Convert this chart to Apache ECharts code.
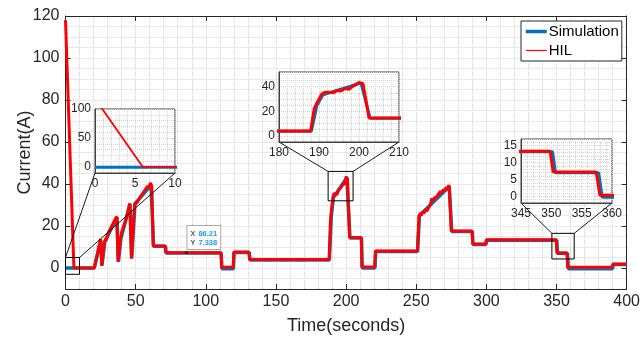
<!DOCTYPE html>
<html><head><meta charset="utf-8">
<script src="https://cdn.jsdelivr.net/npm/echarts@6/dist/echarts.min.js"></script>
<style>html,body{margin:0;padding:0;background:#fff}#c{width:643px;height:341px}</style>
</head><body><div id="c"></div>
<script>
// ---------- data ----------
const simulation = [[0,0],[20.5,0],[25.2,13.2],[26,1.3],[26.6,1.3],[28,12.5],[36.7,24.2],[37.7,3],[38.5,3],[39.5,14],[46,30.5],[47.2,4.6],[48.1,4.6],[49.5,30.5],[61,39.5],[62.8,10.3],[71.3,10.3],[71.8,7.1],[111,7.1],[111.5,-0.3],[119.7,-0.3],[120.2,7.4],[131,7.4],[131.5,3.8],[188.1,3.8],[189.5,25],[191,33.5],[200.5,43],[202.8,14.3],[211,14.3],[211.5,0],[220.6,0],[221.1,7.9],[251,7.9],[252.3,25],[273.6,38.8],[275.3,17.4],[290,17.4],[290.5,11.2],[299.7,11.2],[300.2,13.2],[350.2,13.2],[350.7,7],[357.8,7],[358.4,-0.3],[389.9,-0.3],[390.4,1.7],[400,1.7]];
const hil = [[0,118],[6,0],[20.5,0],[25,13.8],[25.8,1],[26.5,1],[27.5,11],[28.5,14],[29,13],[30,16],[30.5,15.5],[31.5,18],[32,17.5],[33,20],[33.5,19.5],[34.5,22],[35,21.5],[36.5,24.5],[37.5,3],[38.3,3],[39.2,14],[40,17],[40.5,16.5],[41.5,20],[42,19.5],[43,23],[43.5,22.5],[44.5,27],[45,26.5],[45.8,30.8],[47,4.6],[47.9,4.6],[48.8,25],[49.5,31],[50.5,31.5],[51,31],[52.5,33],[53,32.5],[54.5,35],[55,34.5],[56.5,37],[57,36.5],[58.5,39],[59,38],[60.5,40.5],[61.5,39],[62.5,10.5],[71,10.5],[71.5,7.3],[110.8,7.3],[111.3,0.3],[119.5,0.3],[120,7.6],[130.7,7.6],[131.2,4],[187.9,4],[188.8,22],[189.5,27],[190,30],[190.7,34],[191.5,35.5],[192.5,35.5],[193.5,35],[194.5,37],[195.5,36.5],[196.5,38.5],[197.5,38],[198.5,40.5],[199,39.5],[200,43.5],[201,42.5],[202.5,14.5],[210.8,14.5],[211.3,0.5],[220.4,0.5],[220.9,8.1],[250.8,8.1],[252,25],[253,26],[253.5,25],[255,27],[255.5,26],[257,28],[257.5,27],[259,29],[260,30],[261,33],[262,32],[263.5,34],[264,33],[265.5,35],[266,34.5],[267.5,36.5],[268,35.5],[269.5,37.5],[270,36.5],[271.5,38.5],[272,37.5],[273.4,39.5],[275,17.6],[289.8,17.6],[290.3,11.4],[299.5,11.4],[300,13.4],[349.8,13.4],[350.3,7.2],[357.4,7.2],[358,0.3],[389.7,0.3],[390.2,1.9],[400,1.9]];
const seriesNames = ['Simulation','HIL'];
const mainX = {min:0, max:400, grid:10, label:50};
const mainY = {min:-10, max:120, grid:5, label:20};
const mainYTicks = [0,20,40,60,80,100,120];
const insets = [
  {x:{min:0,max:10,grid:1,label:5},   y:{min:-10,max:100,grid:10,label:50}},
  {x:{min:180,max:210,grid:2,label:10},y:{min:-5,max:52,grid:5,label:20}},
  {x:{min:345,max:360,grid:1,label:5}, y:{min:-2,max:17,grid:1,label:5}}
];
// zoom boxes drawn on the main plot (data units)
const zoomBoxes = [[0,10,-3,5],[187.2,205,32,46],[346.7,362.6,4.3,16.5]];
const tipPoint = [86.21, 7.338];

// ---------- styling ----------
const FONT = '"Liberation Sans", Arial, Helvetica, sans-serif';
const TXT = '#262626';
const BLUE = '#0072BD', RED = '#FF0000';
const gridLine = {show:true, lineStyle:{type:'dotted', color:'#d2d2d2', width:1}};

function fmt(step){ return v => (Math.abs(v/step - Math.round(v/step))<1e-6 && v>=0) ? String(Math.round(v*100)/100) : ''; }

const grids = [
  {left:65.5, right:16, top:16, bottom:52, show:false},
  {left:95, top:109, width:80, height:64, show:true, backgroundColor:'#fff', borderColor:'#404040', borderWidth:1, zlevel:1},
  {left:279, top:72, width:120, height:70, show:true, backgroundColor:'#fff', borderColor:'#404040', borderWidth:1, zlevel:1},
  {left:521, top:139, width:91, height:64, show:true, backgroundColor:'#fff', borderColor:'#404040', borderWidth:1, zlevel:1}
];

const xAxes = [
  {type:'value', gridIndex:0, min:mainX.min, max:mainX.max, interval:mainX.grid,
   axisLine:{show:true, onZero:false, lineStyle:{color:TXT}}, axisTick:{show:false},
   axisLabel:{formatter:fmt(mainX.label), fontSize:16, fontFamily:FONT, color:TXT, margin:5},
   splitLine:gridLine, name:'Time(seconds)', nameLocation:'middle', nameGap:28, nameMoveOverlap:false,
   nameTextStyle:{fontSize:18, fontFamily:FONT, color:TXT}},
  {type:'value', gridIndex:0, position:'top', min:mainX.min, max:mainX.max, interval:mainX.label,
   axisLine:{show:true, onZero:false, lineStyle:{color:TXT}}, axisTick:{show:true, inside:true, length:5, lineStyle:{color:TXT}},
   axisLabel:{show:false}, splitLine:{show:false}},
  {type:'value', gridIndex:0, position:'bottom', min:mainX.min, max:mainX.max, interval:mainX.label,
   axisLine:{show:false, onZero:false}, axisTick:{show:true, inside:true, length:5, lineStyle:{color:TXT}},
   axisLabel:{show:false}, splitLine:{show:false}}
];
const yAxes = [
  {type:'value', gridIndex:0, min:mainY.min, max:mainY.max, interval:mainY.grid,
   axisLine:{show:true, onZero:false, lineStyle:{color:TXT}}, axisTick:{show:false},
   axisLabel:{formatter:fmt(mainY.label), fontSize:16, fontFamily:FONT, color:TXT, margin:6},
   splitLine:gridLine, name:'Current(A)', nameLocation:'middle', nameGap:31, nameMoveOverlap:false,
   nameTextStyle:{fontSize:18, fontFamily:FONT, color:TXT}},
  {type:'value', gridIndex:0, position:'left', min:mainY.min, max:mainY.max, splitNumber:6,
   axisLine:{show:false, onZero:false}, axisTick:{show:true, inside:true, length:5, customValues:mainYTicks, lineStyle:{color:TXT}},
   axisLabel:{show:false}, splitLine:{show:false}},
  {type:'value', gridIndex:0, position:'right', min:mainY.min, max:mainY.max, splitNumber:6,
   axisLine:{show:true, onZero:false, lineStyle:{color:TXT}}, axisTick:{show:true, inside:true, length:5, customValues:mainYTicks, lineStyle:{color:TXT}},
   axisLabel:{show:false}, splitLine:{show:false}}
];

const series = [
  {name:seriesNames[0], type:'line', xAxisIndex:0, yAxisIndex:0, data:simulation, symbol:'none', showSymbol:false,
   lineStyle:{color:BLUE, width:3.5}, itemStyle:{color:BLUE}, animation:false, z:2},
  {name:seriesNames[1], type:'line', xAxisIndex:0, yAxisIndex:0, data:hil, symbol:'none', showSymbol:false,
   lineStyle:{color:RED, width:3}, itemStyle:{color:RED}, animation:false, z:3,
   markPoint:{symbol:'circle', symbolSize:3, silent:true, animation:false, itemStyle:{color:'#222'},
     data:[{coord:tipPoint}],
     label:{show:true, position:[2.5,-25], formatter:'{k|X} {v|' + tipPoint[0] + '}\n{k|Y} {v|' + tipPoint[1] + '}',
       backgroundColor:'#fff', borderColor:'#a8a8a8', borderWidth:1, padding:[3,3,2,3], lineHeight:9,
       rich:{k:{color:'#555', fontSize:7, fontWeight:'bold', fontFamily:FONT, lineHeight:9},
             v:{color:'#1a9af0', fontSize:7.5, fontWeight:'bold', fontFamily:FONT, lineHeight:9}}}}}
];

insets.forEach((ins, i) => {
  const g = i + 1;
  const xi = xAxes.length, yi = yAxes.length;
  xAxes.push({type:'value', gridIndex:g, min:ins.x.min, max:ins.x.max, interval:ins.x.grid, zlevel:1,
    axisLine:{show:true, onZero:false, lineStyle:{color:'#404040'}}, axisTick:{show:false},
    axisLabel:{formatter:fmt(ins.x.label), fontSize:12, fontFamily:FONT, color:TXT, margin:5, showMaxLabel:true, showMinLabel:true},
    splitLine:gridLine});
  yAxes.push({type:'value', gridIndex:g, min:ins.y.min, max:ins.y.max, interval:ins.y.grid, zlevel:1,
    axisLine:{show:true, onZero:false, lineStyle:{color:'#404040'}}, axisTick:{show:false},
    axisLabel:{formatter:fmt(ins.y.label), fontSize:12, fontFamily:FONT, color:TXT, margin:4},
    splitLine:gridLine});
  series.push({name:seriesNames[0], type:'line', xAxisIndex:xi, yAxisIndex:yi, data:simulation, symbol:'none', showSymbol:false,
    lineStyle:{color:BLUE, width:3}, itemStyle:{color:BLUE}, animation:false, zlevel:1, z:2, clip:true});
  series.push({name:seriesNames[1], type:'line', xAxisIndex:xi, yAxisIndex:yi, data:hil, symbol:'none', showSymbol:false,
    lineStyle:{color:RED, width:i===0?1.8:3}, itemStyle:{color:RED}, animation:false, zlevel:1, z:3, clip:true});
});

const chart = echarts.init(document.getElementById('c'), null, {renderer:'canvas', width:643, height:341});
chart.setOption({
  animation:false,
  backgroundColor:'#fff',
  grid:grids, xAxis:xAxes, yAxis:yAxes, series:series,
  legend:{orient:'vertical', left:521, top:21, itemWidth:21, itemHeight:10, itemGap:4, padding:[3,3,3,3],
    borderColor:'#262626', borderWidth:1, backgroundColor:'#fff', selectedMode:false,
    textStyle:{fontSize:15, fontFamily:FONT, color:'#000', padding:[0,0,0,-3]},
    data:[{name:seriesNames[0], lineStyle:{width:3.5}, itemStyle:{opacity:0}},
          {name:seriesNames[1], lineStyle:{width:1.2}, itemStyle:{opacity:0}}]}
});

// zoom boxes and connector lines, placed through the axes' own scales
const graphics = [];
zoomBoxes.forEach((b, i) => {
  const tl = chart.convertToPixel({seriesIndex:0}, [b[0], b[3]]);
  const br = chart.convertToPixel({seriesIndex:0}, [b[1], b[2]]);
  const tr = [br[0], tl[1]];
  const ins = insets[i];
  const sIdx = 2 + i*2;
  const ibl = chart.convertToPixel({seriesIndex:sIdx}, [ins.x.min, ins.y.min]);
  const ibr = chart.convertToPixel({seriesIndex:sIdx}, [ins.x.max, ins.y.min]);
  graphics.push({type:'rect', shape:{x:tl[0], y:tl[1], width:br[0]-tl[0], height:br[1]-tl[1]},
    style:{fill:null, stroke:'#000', lineWidth:1}, z:50, silent:true});
  graphics.push({type:'line', shape:{x1:tl[0], y1:tl[1], x2:ibl[0], y2:ibl[1]}, style:{stroke:'#000', lineWidth:0.9}, z:50, silent:true});
  graphics.push({type:'line', shape:{x1:tr[0], y1:tr[1], x2:ibr[0], y2:ibr[1]}, style:{stroke:'#000', lineWidth:0.9}, z:50, silent:true});
});
chart.setOption({graphic:graphics});
</script></body></html>
